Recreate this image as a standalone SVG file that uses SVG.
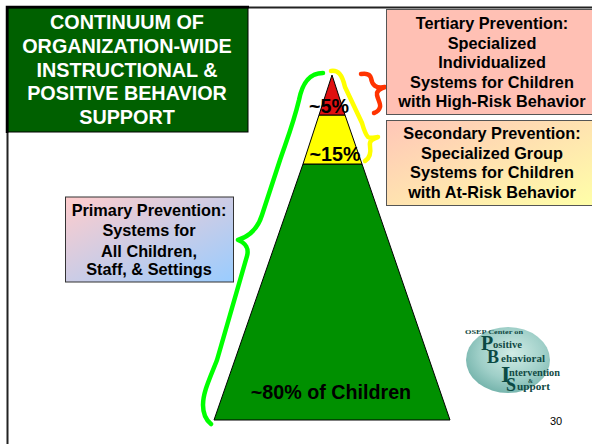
<svg xmlns="http://www.w3.org/2000/svg" width="592" height="444" viewBox="0 0 592 444">
<style>
text{font-family:"Liberation Sans",Arial,sans-serif;font-weight:bold;text-anchor:middle;fill:#000}
.t{font-size:16.300px}
.h{font-size:19.800px;fill:#fff}
.p{font-size:19.700px}
.b{fill:none;stroke-width:4.500;stroke-linecap:round;stroke-linejoin:round}
.l{font-family:"Liberation Serif",serif;font-size:10px;fill:#114a44;text-anchor:start}
.c{font-family:"Liberation Serif",serif;font-size:20px;fill:#0b4a44;text-anchor:start}
</style>
<defs>
<linearGradient id="g1" x1="0" y1="0" x2="1" y2="1"><stop offset="0" stop-color="#ffcccc"/><stop offset="1" stop-color="#99ccff"/></linearGradient>
<linearGradient id="g2" x1="0" y1="0" x2="1" y2="1"><stop offset="0" stop-color="#ffc6b8"/><stop offset="1" stop-color="#ffffa8"/></linearGradient>
<radialGradient id="g3" cx=".55" cy=".4" r=".65"><stop offset="0" stop-color="#d2ece6"/><stop offset=".6" stop-color="#9fcfc8"/><stop offset="1" stop-color="#6fb0a8"/></radialGradient>
</defs>
<rect width="592" height="444" fill="#fff"/>
<path d="M592 7.500H7.500V444" fill="none" stroke="#222" stroke-width="2"/>
<g id="pyramid">
<polygon points="303,164 362,164 450,420 214,420" fill="#009000" stroke="#000"/>
<polygon points="319,115 345,115 362,164 303,164" fill="#ffff00" stroke="#000"/>
<polygon points="332,75 345,115 319,115" fill="#e01010" stroke="#000"/>
<text class="p" x="329" y="113">~5%</text>
<text class="p" x="335" y="161">~15%</text>
<text class="p" x="331" y="399">~80% of Children</text>
</g>
<g id="connectors">
<path class="b" stroke="#00ff00" d="M323 73C308 73 302 85 299 100C293 125 286 142 280 160L262 215C258 228 250 236 238 240C246 243 249 249 247 256L217 360C210 378 203 392 203 405C203 414 206 420 211 424"/>
<path class="b" stroke="#ffff00" d="M331 71C338 70 342 74 345 87L362 123C364 130 366 135 368 137C371 139 375 137 378 137C372 139 369 141 370 146C371 152 370 158 365 161"/>
<path class="b" stroke="#ff3300" d="M361 74C367 73 370 74 371 78C372 85 376 89 385 87C379 89 376 91 377 95C378 100 381 104 380 107C379 111 377 112 374 113"/>
</g>
<g id="title">
<rect x="8" y="8" width="240" height="124" fill="#006000" stroke="#000" stroke-width="1"/>
<path d="M7 133V7H249" fill="none" stroke="#000" stroke-width="2.500"/>
<text class="h" x="127" y="29">CONTINUUM OF</text>
<text class="h" x="127" y="52.500">ORGANIZATION-WIDE</text>
<text class="h" x="127" y="77">INSTRUCTIONAL &amp;</text>
<text class="h" x="127" y="100">POSITIVE BEHAVIOR</text>
<text class="h" x="127" y="124">SUPPORT</text>
</g>
<g id="tertiary">
<rect x="386.500" y="9.500" width="206" height="105" fill="#ffc0b4" stroke="#555"/>
<text class="t" x="492" y="29">Tertiary Prevention:</text>
<text class="t" x="492" y="49">Specialized</text>
<text class="t" x="492" y="68">Individualized</text>
<text class="t" x="492" y="88">Systems for Children</text>
<text class="t" x="492" y="107">with High-Risk Behavior</text>
</g>
<g id="secondary">
<rect x="386.500" y="120.500" width="206" height="85" fill="url(#g2)" stroke="#555"/>
<text class="t" x="492" y="139">Secondary Prevention:</text>
<text class="t" x="492" y="159">Specialized Group</text>
<text class="t" x="492" y="178">Systems for Children</text>
<text class="t" x="492" y="198">with At-Risk Behavior</text>
</g>
<g id="primary">
<rect x="65.500" y="197" width="168" height="85" fill="url(#g1)" stroke="#333"/>
<text class="t" x="149" y="216">Primary Prevention:</text>
<text class="t" x="149" y="236">Systems for</text>
<text class="t" x="149" y="257">All Children,</text>
<text class="t" x="149" y="275">Staff, &amp; Settings</text>
</g>
<g id="logo">
<ellipse cx="508" cy="360" rx="42" ry="33" fill="url(#g3)"/>
<text class="l" x="465" y="334" textLength="58" lengthAdjust="spacingAndGlyphs" style="font-size:7px">OSEP Center on</text>
<text class="c" x="481" y="350">P</text><text class="l" x="493" y="348" textLength="29" lengthAdjust="spacingAndGlyphs">ositive</text>
<text class="c" x="487" y="363" style="font-size:18px">B</text><text class="l" x="501" y="362" textLength="44" lengthAdjust="spacingAndGlyphs">ehavioral</text>
<text class="c" x="501" y="382" style="font-size:24px">I</text><text class="l" x="509" y="376" textLength="51" lengthAdjust="spacingAndGlyphs">ntervention</text>
<text class="l" x="528" y="383" style="font-size:6px">&amp;</text>
<text class="c" x="506" y="391" style="font-size:18px">S</text><text class="l" x="517" y="390" textLength="33" lengthAdjust="spacingAndGlyphs">upport</text>
</g>
<text x="556" y="425" style="font-size:11px;font-weight:normal">30</text>
</svg>
